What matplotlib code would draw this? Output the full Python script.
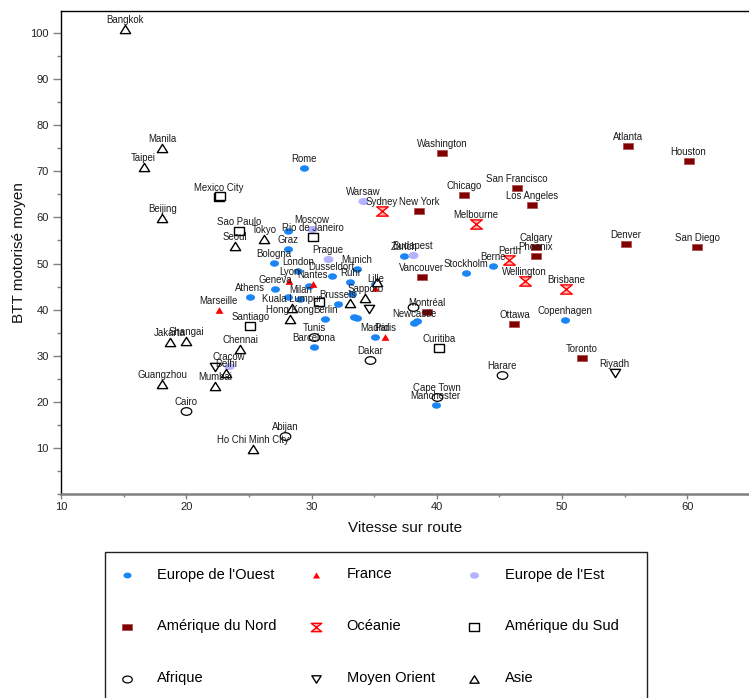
import numpy as np
import matplotlib
matplotlib.use("Agg")
import matplotlib.pyplot as plt
from matplotlib.path import Path
from matplotlib.patches import Rectangle
from matplotlib.transforms import Affine2D

plt.rcParams['font.family'] = ['Liberation Sans', 'DejaVu Sans']

# --- data: (vitesse sur route, BTT motorise moyen) per region ---
ouest_names = ["Rome", "", "Graz", "Bologna", "London", "Geneva", "Athens", "Milan", "", "",
               "Dusseldorf", "Munich", "Ruhr", "Brussels", "Berlin", "", "", "", "",
               "Madrid", "Barcelona", "Zurich", "Newcastle", "", "Stockholm", "Berne",
               "Copenhagen", "Manchester"]
ouest_x = [29.4, 28.1, 28.1, 27.0, 28.9, 27.1, 25.1, 29.1, 28.1, 29.8,
           31.6, 33.6, 33.1, 32.1, 31.1, 33.4, 33.6, 33.2, 35.1,
           35.1, 30.2, 37.4, 38.2, 38.4, 42.3, 44.5, 50.2, 39.9]
ouest_y = [70.7, 57.1, 53.2, 50.1, 48.4, 44.5, 42.7, 42.3, 42.7, 45.1,
           47.3, 48.8, 46.0, 41.2, 38.0, 38.4, 38.2, 43.4, 45.6,
           34.1, 31.9, 51.6, 37.1, 37.5, 48.0, 49.5, 37.8, 19.3]

france_names = ["Marseille", "Lyon", "Nantes", "Lille", "Paris"]
france_x = [22.6, 28.2, 30.1, 35.1, 35.9]
france_y = [39.9, 46.2, 45.6, 44.7, 34.1]

est_names = ["Warsaw", "Moscow", "Prague", "Budapest", "Cracow"]
est_x = [34.1, 30.0, 31.3, 38.1, 23.4]
est_y = [63.6, 57.5, 51.0, 51.9, 27.8]

nord_names = ["Washington", "Atlanta", "Houston", "Chicago", "San Francisco", "Los Angeles",
              "New York", "Denver", "San Diego", "Calgary", "Phoenix", "Vancouver",
              "Montréal", "Ottawa", "Toronto"]
nord_x = [40.4, 55.3, 60.1, 42.2, 46.4, 47.6, 38.6, 55.1, 60.8, 47.9, 47.9, 38.8, 39.2, 46.2, 51.6]
nord_y = [74.0, 75.6, 72.3, 64.9, 66.4, 62.7, 61.4, 54.2, 53.6, 53.6, 51.6, 47.1, 39.5, 36.9, 29.5]

oceanie_names = ["Sydney", "Melbourne", "Perth", "Wellington", "Brisbane"]
oceanie_x = [35.6, 43.1, 45.8, 47.0, 50.3]
oceanie_y = [61.4, 58.6, 50.8, 46.2, 44.5]

sud_names = ["Mexico City", "", "Sao Paulo", "Rio de Janeiro", "Santiago", "Curitiba", ""]
sud_x = [22.6, 22.7, 24.2, 30.1, 25.1, 40.2, 30.6]
sud_y = [64.4, 64.6, 57.1, 55.8, 36.5, 31.7, 41.7]

afrique_names = ["Cairo", "Abijan", "Tunis", "Dakar", "Harare", "Cape Town", ""]
afrique_x = [20.0, 27.9, 30.2, 34.7, 45.2, 40.0, 38.1]
afrique_y = [17.9, 12.6, 34.1, 29.1, 25.8, 21.1, 40.6]

orient_names = ["Riyadh", "", ""]
orient_x = [54.2, 22.3, 34.6]
orient_y = [26.3, 27.6, 40.1]

asie_names = ["Bangkok", "Manila", "Taipei", "Beijing", "Seoul", "Tokyo", "Jakarta", "Shangai",
              "Chennai", "Guangzhou", "Mumbai", "Delhi", "Ho Chi Minh City", "Kuala Lumpur",
              "Hong Kong", "Sapporo", "", ""]
asie_x = [15.1, 18.1, 16.6, 18.1, 23.9, 26.2, 18.7, 20.0, 24.3, 18.1, 22.3, 23.2, 25.3, 28.4,
          28.3, 34.3, 33.1, 35.2]
asie_y = [100.8, 75.1, 70.9, 59.9, 53.8, 55.3, 33.0, 33.2, 31.5, 23.9, 23.4, 26.3, 9.8, 40.4,
          38.0, 42.5, 41.4, 46.0]

# --- marker shapes (slightly flattened like the original) ---
ellipse = Path.unit_circle().transformed(Affine2D().scale(1.0, 0.72))
def box(r):
    return Path([(-1, -r), (1, -r), (1, r), (-1, r), (-1, -r)],
                [Path.MOVETO, Path.LINETO, Path.LINETO, Path.LINETO, Path.CLOSEPOLY])
def tri(r, up=True):
    s = 1 if up else -1
    return Path([(-1, -s * r), (1, -s * r), (0, s * r), (-1, -s * r)],
                [Path.MOVETO, Path.LINETO, Path.LINETO, Path.CLOSEPOLY])
hourglass = Path([(-1, 0.8), (1, 0.8), (-1, -0.8), (1, -0.8), (-1, 0.8)],
                 [Path.MOVETO, Path.LINETO, Path.LINETO, Path.LINETO, Path.CLOSEPOLY])

groups = [
    ("Europe de l'Ouest", ouest_names, ouest_x, ouest_y, dict(marker=ellipse, s=42, c='#1a86f5', linewidths=0)),
    ("France", france_names, france_x, france_y, dict(marker=tri(0.85), s=32, c='#ff0000', linewidths=0)),
    ("Europe de l'Est", est_names, est_x, est_y, dict(marker=ellipse, s=52, c='#b3b3ff', linewidths=0)),
    ("Amérique du Nord", nord_names, nord_x, nord_y, dict(marker=box(0.67), s=52, c='#800000', edgecolors='#b05050', linewidths=0.6)),
    ("Océanie", oceanie_names, oceanie_x, oceanie_y, dict(marker=hourglass, s=70, facecolors='#ffb0b0', edgecolors='#ff0000', linewidths=1.0)),
    ("Amérique du Sud", sud_names, sud_x, sud_y, dict(marker=box(0.79), s=62, facecolors='white', edgecolors='black', linewidths=1.0)),
    ("Afrique", afrique_names, afrique_x, afrique_y, dict(marker=ellipse, s=58, facecolors='white', edgecolors='black', linewidths=0.9)),
    ("Moyen Orient", orient_names, orient_x, orient_y, dict(marker=tri(0.8, up=False), s=55, facecolors='white', edgecolors='black', linewidths=1.0)),
    ("Asie", asie_names, asie_x, asie_y, dict(marker=tri(0.8), s=55, facecolors='white', edgecolors='black', linewidths=1.0)),
]

fig = plt.figure(figsize=(7.49, 6.98), dpi=100)
ax = fig.add_axes([61 / 749, 204 / 698, 689 / 749, 483.5 / 698])

handles = []
for label, names, xs, ys, style in groups:
    h = ax.scatter(xs, ys, label=label, zorder=3, **style)
    handles.append(h)
    for n, x, y in zip(names, xs, ys):
        if n:
            ax.annotate(n, (x, y), xytext=(0, 6.5), textcoords='offset points',
                        ha='center', va='center', fontsize=6.9, color='#1a1a1a', zorder=4)

ax.set_xlim(10, 64.47)
ax.set_ylim(0, 104.9)
ax.set_xticks(range(10, 61, 10))
ax.set_xticks(range(15, 66, 10), minor=True)
ax.set_yticks(range(10, 101, 10))
ax.set_yticks([0] + list(range(5, 101, 10)), minor=True)
ax.tick_params(which='both', direction='out', color='#808080', labelsize=8, labelcolor='#222222')
ax.tick_params(axis='x', which='major', length=3.5, width=1, pad=2)
ax.tick_params(axis='x', which='minor', length=2.5, width=1)
ax.tick_params(axis='y', which='major', length=5.5, width=1, pad=3.5)
ax.tick_params(axis='y', which='minor', length=3, width=1)

ax.spines['right'].set_visible(False)
ax.spines['top'].set_linewidth(1.0)
ax.spines['left'].set_linewidth(1.0)
ax.spines['bottom'].set_color('#7f7f7f')
ax.spines['bottom'].set_linewidth(1.8)

ax.set_xlabel("Vitesse sur route", fontsize=11, labelpad=7, color='#111111')
ax.set_ylabel("BTT motorisé moyen", fontsize=11, labelpad=3, color='#111111')

# legend filled row by row like the original; its box runs past the bottom edge
order = [0, 3, 6, 1, 4, 7, 2, 5, 8]
leg = fig.legend([handles[i] for i in order], [groups[i][0] for i in order],
                 ncol=3, loc='upper left', bbox_to_anchor=(112 / 749, 1 - 567.5 / 698),
                 fontsize=10.5, frameon=False, labelspacing=2.6, handlelength=2.0,
                 handletextpad=1.1, columnspacing=1.7, borderpad=0, borderaxespad=0,
                 markerscale=0.9)
fig.patches.append(Rectangle((105 / 749, 1 - 712 / 698), 542 / 749, 160 / 698,
                             transform=fig.transFigure, fill=False, edgecolor='#222222',
                             linewidth=1.0, clip_on=False))

fig.savefig("out.png", dpi=100)
